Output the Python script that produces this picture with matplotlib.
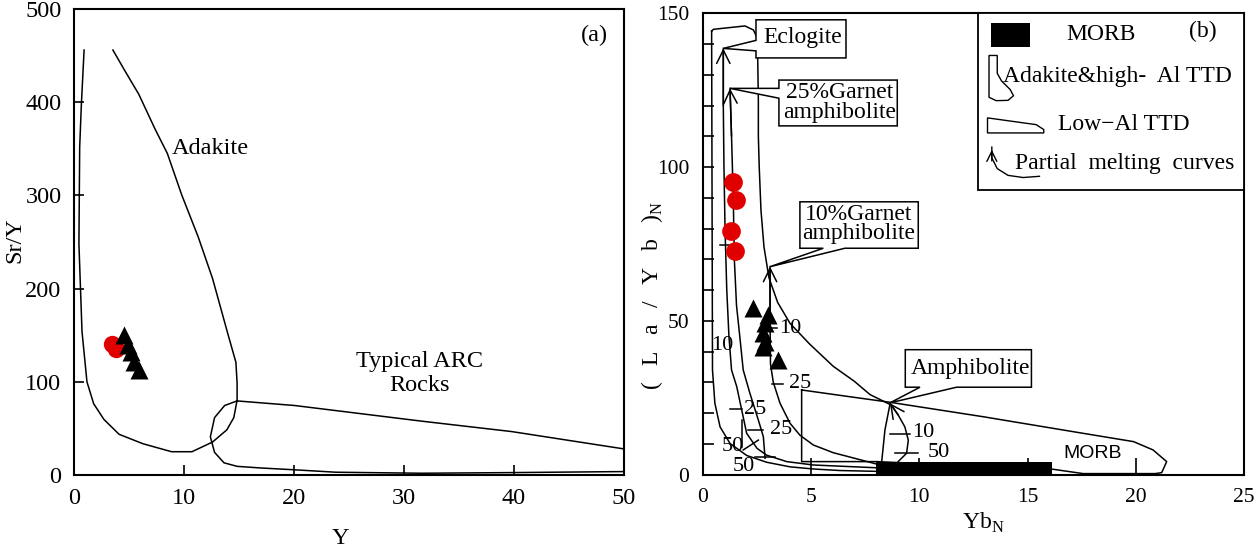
import matplotlib
matplotlib.use('Agg')
import matplotlib.pyplot as plt
from matplotlib.patches import Polygon

plt.rcParams['font.family'] = ['Liberation Serif', 'DejaVu Serif']
plt.rcParams['mathtext.fontset'] = 'custom'
plt.rcParams['mathtext.rm'] = 'Liberation Serif'

# ---------------- Panel (a): Sr/Y vs Y ----------------
a_circ_y = [3.5, 3.8]
a_circ_sry = [141, 135]
a_tri_y = [4.55, 4.91, 5.18, 5.45, 5.91]
a_tri_sry = [150, 140, 132, 121, 113]

adakite_a_y = [0.92, 0.67, 0.52, 0.45, 0.73, 1.18, 1.79, 2.72, 4.1, 6.26, 8.87, 10.73,
               12.6, 13.9, 14.53, 14.83, 14.83, 14.72, 14.0, 12.6, 11.29, 9.8, 8.49,
               7.38, 5.89, 4.58, 3.54]
adakite_a_sry = [456, 397, 352, 248, 154, 100, 76.5, 59.7, 43.7, 33.6, 25, 25,
                 35.4, 48.5, 61.6, 80.2, 98.9, 121, 151, 210.8, 255.6, 300.4, 345,
                 371, 408.6, 434.7, 456]
arc_a_y = [14.83, 20.04, 31.6, 39.8, 50, 50, 39.8, 31.6, 23.8, 20.04, 17.06, 14.83,
           13.64, 12.78, 12.4, 12.78, 13.7, 14.83]
arc_a_sry = [79.5, 74.6, 57.8, 46.6, 28, 3.7, 2.6, 1.9, 3.0, 5.6, 7.5, 9.3,
             13.1, 24.3, 41, 61.6, 74.6, 79.5]

# ---------------- Panel (b): (La/Yb)N vs YbN ----------------
b_circ_yb = [1.40, 1.52, 1.29, 1.48]
b_circ_layb = [95.3, 89.3, 79.3, 72.8]
b_tri_yb = [2.33, 3.02, 2.87, 2.79, 2.87, 2.79, 3.48]
b_tri_layb = [54.1, 51.9, 49.2, 45.9, 43.2, 41.6, 37.2]

adakite_b_yb = [0.40, 0.48, 1.94, 2.33, 2.48, 2.53, 2.56, 2.56, 2.6, 2.68, 2.82, 3.05,
                3.45, 4.02, 4.92, 6.02, 7.0, 7.72, 8.64, 8.56, 8.41, 8.33, 8.26, 8.2,
                6.33, 5.1, 4.02, 2.94, 2.02, 1.25, 0.79, 0.55, 0.44, 0.40]
adakite_b_layb = [144.2, 144.8, 145.9, 144.6, 142.4, 135.4, 121.8, 110, 100, 86, 74, 64,
                  56, 49.2, 42.5, 35.2, 30.3, 26.0, 22.8, 19.9, 14.5, 9.0, 4.2, 1.0,
                  1.3, 1.8, 2.5, 4.0, 6.2, 10.1, 15.5, 23.2, 34, 144.2]
lowal_b_yb = [4.56, 6.79, 8.64, 12.95, 17.57, 19.9, 20.8, 21.43, 21.2, 20.9, 17.57,
              16.19, 8.0, 4.56, 4.56]
lowal_b_layb = [27.5, 25.3, 23.5, 18.8, 13.4, 10.7, 8.0, 4.2, 0.6, 0.3, 0.3,
                1.7, 4.2, 4.2, 27.5]
morb_yb = [8.0, 16.13]
morb_layb = [0.0, 4.2]

# partial melting curves (end of each list = arrow tip)
ecl_yb = [8.0, 5.1, 3.87, 2.94, 2.5, 2.02, 1.79, 1.56, 1.32, 1.2, 1.1, 1.02, 0.97, 0.94, 0.94]
ecl_layb = [2.2, 3.1, 4.2, 6.3, 8.5, 13.4, 21.0, 28.6, 34, 45, 60, 80, 100, 120, 138.6]
g25_yb = [2.87, 2.79, 2.56, 2.17, 1.86, 1.7, 1.55, 1.45, 1.40, 1.32, 1.25]
g25_layb = [5.3, 12.3, 17.7, 26.4, 34, 45, 55, 70, 90, 110, 125.6]
g10_yb = [8.03, 6.02, 5.1, 4.48, 4.02, 3.56, 3.25, 3.12, 3.10, 3.10]
g10_layb = [3.4, 7.1, 9.6, 12.8, 16.7, 23.2, 30, 36, 50, 67.6]
amp_yb = [9.02, 9.41, 9.49, 9.33, 9.02, 8.64]
amp_layb = [4.2, 6.9, 11.2, 15.5, 19.4, 23.2]
ecl_v_yb = [1.79, 1.79]
ecl_v_layb = [17.7, 8.8]

# melting-degree ticks: (x0, x1, y0, y1)
melt_ticks = [(0.79, 1.25, 74.7, 74.7), (1.25, 1.79, 21.2, 21.2), (1.86, 2.56, 8.0, 11.2),
              (2.09, 2.79, 14.5, 14.5), (2.40, 3.33, 5.6, 5.6), (2.85, 3.40, 47.5, 47.5),
              (3.17, 3.71, 29.4, 29.4), (8.64, 9.57, 13.2, 13.2), (8.87, 9.95, 6.9, 6.9)]
melt_labels = [('10', 0.91, 42), ('25', 2.4, 21.3), ('50', 1.37, 9.1), ('25', 3.6, 14.6),
               ('50', 1.9, 2.6), ('10', 4.05, 47.6), ('25', 4.5, 29.5), ('10', 10.2, 13.6),
               ('50', 10.9, 7.3)]

# label callout boxes (polygons with pointer)
ecl_box = ([2.45, 6.61, 6.61, 2.45, 2.45, 0.94, 2.45, 2.45],
           [147.9, 147.9, 135.5, 135.5, 137.8, 138.6, 141.2, 147.9])
g25_box = ([3.51, 8.98, 8.98, 3.51, 3.51, 1.25, 3.51, 3.51],
           [128.3, 128.3, 113.4, 113.4, 122.4, 125.6, 125.6, 128.3])
g10_box = ([4.48, 9.95, 9.95, 6.56, 3.10, 5.56, 4.48, 4.48],
           [88.7, 88.7, 73.6, 73.6, 67.6, 73.6, 73.6, 88.7])
amp_box = ([9.35, 15.18, 15.18, 11.72, 8.64, 10.03, 9.35, 9.35],
           [40.6, 40.6, 28.4, 28.4, 23.3, 28.4, 28.4, 40.6])

LW = 1.1
FSA = 17.5   # panel a text
FSB = 17     # panel b annotations
FSM = 16     # melt-degree numbers

fig = plt.figure(figsize=(12.58, 5.47), dpi=100)
ax = fig.add_axes([0.0588, 0.1316, 0.4372, 0.8519])
bx = fig.add_axes([0.5588, 0.1325, 0.4300, 0.8431])

# ---------- panel a ----------
ax.plot(adakite_a_y, adakite_a_sry, color='black', lw=LW)
ax.plot(arc_a_y, arc_a_sry, color='black', lw=LW)
ax.plot(a_circ_y, a_circ_sry, 'o', color='#e00000', ms=12.5, mec='none')
ax.plot(a_tri_y, a_tri_sry, '^', color='black', ms=13, mec='none')
ax.set_xlim(0, 50)
ax.set_ylim(0, 500)
ax.set_xticks([0, 10, 20, 30, 40, 50])
ax.set_yticks([0, 100, 200, 300, 400, 500])
ax.tick_params(direction='in', length=7, width=1.2, labelsize=FSA, pad=9)
ax.text(47.3, 472, '(a)', fontsize=FSA, ha='center', va='center')
ax.text(8.9, 350, 'Adakite', fontsize=FSA, ha='left', va='center')
ax.text(31.4, 109, 'Typical ARC\nRocks', fontsize=FSA, ha='center', va='center',
        linespacing=1.15)
ax.set_xlabel('Y', fontsize=FSA)
ax.xaxis.set_label_coords(0.484, -0.137)
ax.xaxis.label.set_va('center')
ax.set_ylabel('Sr/Y', fontsize=FSA)
ax.yaxis.set_label_coords(-0.107, 0.503)
ax.yaxis.label.set_va('center')

# ---------- panel b ----------
bx.plot(adakite_b_yb, adakite_b_layb, color='black', lw=LW)
bx.plot(lowal_b_yb, lowal_b_layb, color='black', lw=LW)
for xs, ys in [(ecl_yb, ecl_layb), (g25_yb, g25_layb), (g10_yb, g10_layb), (amp_yb, amp_layb)]:
    bx.plot(xs, ys, color='black', lw=LW)
    bx.annotate('', xy=(xs[-1], ys[-1]), xytext=(xs[-2], ys[-2]),
                arrowprops=dict(arrowstyle='->', lw=LW, color='black',
                                mutation_scale=24, shrinkA=0, shrinkB=0))
bx.plot(ecl_v_yb, ecl_v_layb, color='black', lw=LW)
for x0, x1, y0, y1 in melt_ticks:
    bx.plot([x0, x1], [y0, y1], color='black', lw=LW)
for s, x, y in melt_labels:
    bx.text(x, y, s, fontsize=FSM, ha='center', va='center')
bx.fill_between(morb_yb, morb_layb[0], morb_layb[1], color='black', lw=0, zorder=3)
bx.text(18.0, 6.9, 'MORB', fontsize=14, ha='center', va='center',
        family=['Liberation Sans Narrow', 'Liberation Sans', 'DejaVu Sans'])

for (px, py) in [ecl_box, g25_box, g10_box, amp_box]:
    bx.add_patch(Polygon(list(zip(px, py)), closed=True, fc='white', ec='black',
                         lw=LW, zorder=4))
bx.text(4.6, 142.2, 'Eclogite', fontsize=FSB, ha='center', va='center', zorder=5)
bx.text(6.3, 121.0, '25%Garnet\namphibolite', fontsize=FSB, ha='center', va='center',
        linespacing=0.9, zorder=5)
bx.text(7.18, 81.5, '10%Garnet\namphibolite', fontsize=FSB, ha='center', va='center',
        linespacing=0.9, zorder=5)
bx.text(12.37, 34.6, 'Amphibolite', fontsize=FSB, ha='center', va='center', zorder=5)

bx.plot(b_circ_yb, b_circ_layb, 'o', color='#e00000', ms=13.5, mec='none', zorder=6)
bx.plot(b_tri_yb, b_tri_layb, '^', color='black', ms=13, mec='none', zorder=6)

# legend box
bx.add_patch(Polygon([(12.71, 92.5), (25, 92.5), (25, 150), (12.71, 150)], closed=True,
                     fc='white', ec='black', lw=1.3, zorder=7))
bx.fill_between([13.3, 15.1], 139.0, 146.9, color='black', lw=0, zorder=8)
bx.text(18.38, 143.0, 'MORB', fontsize=FSB, ha='center', va='center', zorder=8)
bx.text(23.1, 144.0, '(b)', fontsize=FSB, ha='center', va='center', zorder=8)
leg_adak = [(13.22, 136.3), (13.22, 122.7), (13.55, 121.6), (14.1, 121.7), (14.35, 123.2),
            (14.2, 125.2), (13.8, 128.0), (13.6, 130.5), (13.6, 136.3)]
bx.add_patch(Polygon(leg_adak, closed=True, fc='white', ec='black', lw=1.0, zorder=8))
bx.text(13.86, 129.6, 'Adakite&high-  Al TTD', fontsize=FSB, ha='left', va='center', zorder=8)
leg_low = [(13.15, 116.0), (15.4, 113.8), (15.75, 112.2), (15.75, 111.1), (13.15, 111.1)]
bx.add_patch(Polygon(leg_low, closed=True, fc='white', ec='black', lw=1.0, zorder=8))
bx.text(16.4, 114.0, 'Low\u2212Al TTD', fontsize=FSB, ha='left', va='center', zorder=8)
bx.plot([13.35, 13.35, 13.6, 14.1, 14.8, 15.55], [106.5, 103.0, 99.5, 97.3, 96.6, 97.0],
        color='black', lw=1.0, zorder=8)
bx.annotate('', xy=(13.35, 105.6), xytext=(13.35, 102.0),
            arrowprops=dict(arrowstyle='->', lw=1.0, mutation_scale=18, color='black',
                            shrinkA=0, shrinkB=0), zorder=8)
bx.text(14.42, 101.0, 'Partial  melting  curves', fontsize=FSB, ha='left', va='center', zorder=8)

bx.set_xlim(0, 25)
bx.set_ylim(0, 150)
bx.set_xticks([0, 5, 10, 15, 20, 25])
bx.set_yticks([0, 50, 100, 150])
bx.set_yticks(range(0, 151, 10), minor=True)
bx.tick_params(axis='x', direction='in', length=12, width=1.2, labelsize=15.5, pad=10)
bx.tick_params(axis='y', which='both', direction='in', length=8, width=1.2, labelsize=15.5, pad=10)
bx.set_xlabel('Yb$_\\mathregular{N}$', fontsize=17)
bx.xaxis.set_label_coords(0.518, -0.105)
bx.xaxis.label.set_va('center')
sp = '  \u2009'
bx.set_ylabel(sp.join(['(', 'L', 'a', '/', 'Y', 'b', ')']) + '$_\\mathregular{N}$', fontsize=17)
bx.yaxis.set_label_coords(-0.095, 0.389)
bx.yaxis.label.set_va('center')

for a in (ax, bx):
    for s in a.spines.values():
        s.set_linewidth(1.5)

fig.savefig('out.png', dpi=100)
